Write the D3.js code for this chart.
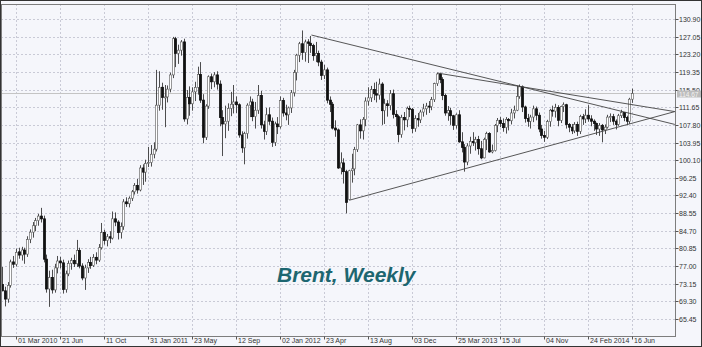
<!DOCTYPE html>
<html>
<head>
<meta charset="utf-8">
<script src="https://cdn.jsdelivr.net/npm/d3@7"></script>
<style>
  html, body { margin: 0; padding: 0; background: #f5f6fb; }
  svg { display: block; font-family: "Liberation Sans", Arial, sans-serif; }
</style>
</head>
<body>
<svg id="chart" width="702" height="347"></svg>
<script>
/* ----------  DATA  ---------- */
// weekly candles, first one is the week of 25 Jan 2010
const firstWeek = '2010-01-25'

const opens = [
  73.0, 71.6, 69.8, 72.8, 77.9, 77.4, 80.1, 79.4, 80.5, 79.6,
  82.8, 84.4, 85.8, 86.9, 87.9, 87.3, 78.5, 72.0, 74.5, 71.8,
  76.6, 78.1, 77.7, 71.9, 75.3, 77.6, 78.2, 77.5, 80.4, 77.0,
  74.4, 76.6, 77.8, 77.1, 78.9, 78.3, 81.0, 84.3, 82.6, 83.4,
  83.1, 87.3, 86.6, 84.3, 85.6, 91.0, 90.6, 91.8, 93.2, 94.6,
  93.6, 98.4, 97.5, 99.4, 99.6, 101.4, 102.5, 112.1, 116.0, 113.8,
  113.9, 115.6, 118.7, 126.6, 123.4, 124.1, 125.9, 109.1, 113.8, 112.4,
  115.0, 116.0, 118.8, 113.2, 105.1, 111.9, 118.3, 117.2, 118.7, 116.7,
  109.4, 108.0, 108.6, 111.4, 112.3, 112.8, 112.2, 105.6, 102.8, 105.9,
  112.1, 112.8, 109.6, 111.0, 114.2, 107.8, 106.4, 110.0, 108.6, 104.0,
  108.0, 107.4, 113.1, 110.4, 110.0, 111.5, 114.8, 119.2, 123.0, 125.5,
  123.6, 125.9, 125.6, 125.1, 122.9, 123.4, 121.5, 118.6, 119.8, 113.2,
  112.3, 107.1, 106.7, 98.4, 99.5, 97.6, 91.5, 97.8, 98.2, 102.4,
  107.8, 106.5, 109.0, 113.0, 113.7, 115.5, 114.6, 114.3, 116.7, 110.9,
  112.4, 112.0, 114.6, 110.1, 109.6, 105.7, 109.4, 108.9, 111.4, 111.2,
  107.0, 109.2, 108.9, 110.6, 111.3, 111.9, 111.8, 113.3, 116.8, 118.9,
  117.7, 114.2, 110.4, 110.9, 109.8, 107.7, 110.0, 104.1, 102.9, 99.7,
  103.2, 104.2, 103.9, 104.6, 102.6, 100.6, 104.6, 105.9, 101.9, 102.2,
  107.7, 108.8, 108.1, 107.2, 109.0, 108.7, 110.4, 111.0, 114.0, 116.1,
  111.7, 109.2, 108.6, 109.5, 111.3, 109.9, 106.9, 105.5, 105.1, 108.5,
  111.0, 110.8, 111.6, 108.8, 111.8, 112.2, 107.9, 107.3, 106.5, 107.9,
  106.4, 109.6, 109.1, 109.9, 109.1, 108.6, 108.1, 106.9, 107.7, 106.7,
  107.3, 109.5, 109.6, 108.6, 107.9, 109.8, 110.5, 109.4, 108.6, 113.4
]

const highs = [
  76.8, 72.5, 73.5, 78.4, 79.2, 80.8, 81.0, 81.2, 81.0, 83.5,
  85.0, 86.6, 87.5, 88.4, 89.7, 88.0, 79.5, 76.0, 76.2, 77.5,
  79.2, 79.0, 78.4, 76.0, 78.2, 78.8, 79.5, 82.7, 81.0, 77.6,
  77.3, 78.5, 79.0, 79.6, 80.0, 81.8, 86.4, 84.9, 84.0, 84.6,
  88.9, 88.7, 87.0, 86.5, 91.6, 92.0, 92.2, 93.6, 95.1, 96.0,
  99.0, 99.2, 100.2, 103.0, 103.4, 104.0, 119.8, 119.5, 117.0, 116.5,
  116.4, 119.2, 127.0, 127.0, 125.3, 126.3, 126.6, 115.4, 116.2, 116.0,
  117.2, 120.5, 121.5, 114.5, 112.3, 118.6, 119.0, 119.3, 119.5, 117.5,
  111.0, 112.0, 112.5, 115.0, 116.5, 114.0, 112.5, 106.4, 106.3, 112.5,
  114.0, 113.5, 112.8, 116.5, 115.2, 108.7, 111.5, 111.6, 109.4, 108.5,
  109.5, 114.0, 113.7, 112.2, 111.8, 115.4, 119.8, 123.3, 125.9, 128.4,
  126.4, 126.5, 127.2, 125.5, 125.9, 124.0, 122.0, 120.9, 120.3, 114.0,
  112.8, 108.8, 107.0, 101.8, 100.5, 98.0, 98.0, 101.5, 103.0, 108.0,
  109.0, 109.5, 113.8, 116.0, 116.3, 117.0, 117.2, 117.9, 117.1, 113.5,
  113.2, 115.4, 115.5, 111.0, 110.0, 110.0, 110.6, 111.8, 112.0, 111.5,
  109.9, 110.4, 111.1, 112.4, 112.6, 113.0, 113.9, 117.0, 119.2, 119.2,
  118.2, 114.6, 111.9, 111.5, 110.0, 110.3, 111.0, 106.2, 103.6, 103.8,
  105.2, 106.2, 105.2, 105.4, 104.3, 105.0, 106.3, 106.2, 103.5, 108.0,
  109.3, 109.5, 109.2, 109.5, 109.3, 111.3, 112.0, 116.3, 116.6, 116.4,
  112.0, 110.2, 110.0, 112.0, 111.8, 110.5, 107.8, 106.5, 108.9, 111.3,
  112.0, 112.4, 112.1, 112.0, 112.7, 112.4, 108.2, 108.0, 108.4, 108.5,
  110.0, 110.2, 111.2, 112.1, 109.9, 109.0, 108.3, 108.2, 108.0, 107.9,
  110.0, 110.3, 110.2, 109.0, 110.2, 111.1, 110.6, 109.8, 113.7, 115.7
]

const lows = [
  71.5, 68.2, 69.0, 72.3, 76.6, 76.9, 78.6, 78.2, 77.5, 79.0,
  82.0, 83.2, 84.6, 85.8, 86.5, 77.8, 71.2, 68.1, 71.0, 71.2,
  75.4, 76.5, 71.0, 71.2, 74.8, 76.2, 76.8, 76.8, 76.5, 73.9,
  71.8, 75.5, 76.4, 76.8, 77.4, 77.9, 80.6, 81.7, 81.3, 82.0,
  82.8, 85.7, 82.8, 83.0, 84.9, 89.9, 89.8, 91.2, 92.6, 92.8,
  93.3, 94.7, 95.4, 98.6, 98.7, 100.5, 102.0, 110.9, 111.1, 107.3,
  112.7, 114.9, 118.0, 120.4, 121.1, 122.9, 108.5, 107.9, 109.8, 110.9,
  113.0, 114.4, 112.6, 103.8, 104.5, 111.3, 115.6, 116.0, 115.5, 107.5,
  101.0, 104.9, 106.5, 109.7, 110.3, 110.4, 105.0, 101.7, 99.2, 104.8,
  109.5, 108.6, 107.0, 110.2, 107.0, 104.6, 105.6, 107.8, 103.0, 103.2,
  105.8, 107.0, 109.6, 108.8, 107.8, 110.4, 114.0, 117.5, 121.5, 122.0,
  121.6, 121.3, 123.5, 121.8, 121.5, 120.6, 117.6, 117.8, 112.5, 110.6,
  106.8, 105.2, 98.2, 97.0, 95.0, 88.5, 91.3, 95.2, 96.8, 101.9,
  104.8, 104.6, 107.5, 112.0, 112.8, 113.2, 112.7, 113.3, 107.8, 108.0,
  109.6, 111.0, 109.2, 107.5, 104.0, 105.0, 106.6, 107.3, 109.5, 106.0,
  106.3, 107.4, 108.2, 109.6, 110.0, 110.4, 111.0, 112.8, 116.3, 116.9,
  113.2, 109.8, 108.7, 107.8, 106.7, 107.0, 103.9, 101.8, 97.6, 99.0,
  101.5, 103.2, 102.2, 101.3, 100.3, 100.5, 102.3, 101.7, 101.6, 102.0,
  106.2, 107.3, 106.3, 105.9, 106.6, 107.9, 109.2, 110.8, 113.5, 110.6,
  108.3, 107.4, 107.0, 108.4, 108.8, 106.2, 104.8, 104.1, 104.7, 107.4,
  109.6, 109.4, 107.5, 108.2, 110.6, 107.0, 106.2, 105.8, 106.0, 105.4,
  105.8, 107.8, 108.2, 108.5, 107.5, 106.5, 105.6, 105.4, 104.0, 105.8,
  107.0, 108.4, 107.8, 106.8, 107.6, 109.3, 108.6, 107.7, 108.0, 112.6
]

const closes = [
  71.6, 69.8, 72.8, 77.9, 77.4, 80.0, 79.4, 80.5, 79.6, 82.8,
  84.4, 85.8, 86.9, 87.9, 87.3, 78.5, 72.0, 74.5, 71.8, 76.6,
  78.1, 77.7, 71.9, 75.3, 77.6, 78.2, 77.5, 80.4, 77.0, 74.4,
  76.6, 77.8, 77.1, 78.9, 78.3, 81.0, 84.3, 82.6, 83.4, 83.1,
  87.3, 86.6, 84.3, 85.6, 91.0, 90.6, 91.8, 93.2, 94.6, 93.6,
  98.4, 97.5, 99.4, 99.6, 101.4, 102.5, 112.1, 116.0, 113.8, 113.9,
  115.6, 118.7, 126.6, 123.4, 124.1, 125.9, 109.1, 113.8, 112.4, 115.0,
  116.0, 118.8, 113.2, 105.1, 111.9, 118.3, 117.2, 118.7, 116.7, 109.4,
  108.0, 108.6, 111.4, 112.3, 112.8, 112.2, 105.6, 102.8, 105.9, 112.1,
  112.8, 109.6, 111.0, 114.2, 107.8, 106.4, 110.0, 108.6, 104.0, 108.0,
  107.4, 113.1, 110.4, 110.0, 111.5, 114.8, 119.2, 123.0, 125.5, 123.6,
  125.9, 125.6, 125.1, 122.9, 123.4, 121.5, 118.6, 119.8, 113.2, 112.3,
  107.1, 106.7, 98.4, 99.5, 97.6, 90.9, 97.8, 98.2, 102.4, 107.8,
  106.5, 109.0, 113.0, 113.7, 115.5, 114.6, 114.3, 116.7, 110.9, 112.4,
  112.0, 114.6, 110.1, 109.6, 105.7, 109.4, 108.9, 111.4, 111.2, 107.0,
  109.2, 108.9, 110.6, 111.3, 111.9, 111.8, 113.3, 116.8, 118.9, 117.7,
  114.2, 110.4, 110.9, 109.8, 107.7, 110.0, 104.1, 102.9, 99.7, 103.2,
  104.2, 103.9, 104.6, 102.6, 100.6, 104.6, 105.9, 101.9, 102.2, 107.7,
  108.8, 108.1, 107.2, 109.0, 108.7, 110.4, 111.0, 114.0, 116.1, 111.7,
  109.2, 108.6, 109.5, 111.3, 109.9, 106.9, 105.5, 105.1, 108.5, 111.0,
  110.8, 111.6, 108.8, 111.8, 112.2, 107.9, 107.3, 106.5, 107.9, 106.4,
  109.6, 109.1, 109.9, 109.1, 108.6, 108.1, 106.9, 107.7, 106.7, 107.3,
  109.5, 109.6, 108.6, 107.9, 109.8, 110.5, 109.4, 108.6, 113.4, 114.67
]

const lastPrice = 114.67

const yTicks = [130.90, 127.05, 123.20, 119.35, 115.50, 111.65, 107.80, 103.95, 100.10,
  96.25, 92.40, 88.55, 84.70, 80.85, 77.00, 73.15, 69.30, 65.45]

const xTickDates = ['2010-03-01', '2010-06-21', '2010-10-11', '2011-01-31', '2011-05-23',
  '2011-09-12', '2012-01-02', '2012-04-23', '2012-08-13', '2012-12-03', '2013-03-25',
  '2013-07-15', '2013-11-04', '2014-02-24', '2014-06-16']
const xTickLabels = ['01 Mar 2010', '21 Jun', '11 Oct', '31 Jan 2011', '23 May',
  '12 Sep', '02 Jan 2012', '23 Apr', '13 Aug', '03 Dec', '25 Mar 2013',
  '15 Jul', '04 Nov', '24 Feb 2014', '16 Jun']

// hand drawn trend lines: [date, price] pairs
const trendLines = [
  [['2012-03-22', 127.4], ['2014-10-03', 107.9]],
  [['2013-02-06', 119.1], ['2014-10-03', 110.7]],
  [['2012-06-28', 91.4], ['2014-10-03', 110.7]]
]

/* ----------  LAYOUT  ---------- */
const W = 702
const H = 347
const plot = {left: 1, right: 675, top: 4, bottom: 336}

const parse = d3.utcParse('%Y-%m-%d')
const start = parse(firstWeek)
const weeks = closes.map((_, i) => d3.utcDay.offset(start, 7 * i))
const candles = weeks.map((w, i) => ({date: w, o: opens[i], h: highs[i], l: lows[i], c: closes[i]}))

// x: one week = 2.75 px, first candle a bit in from the left border
const x = d3.scaleTime()
  .domain([weeks[0], weeks[weeks.length - 1]])
  .range([2.25, 632])

const y = d3.scaleLinear()
  .domain([65.45, 130.90])
  .range([319, 19])

const svg = d3.select('#chart')

svg.append('rect')
  .attr('width', W)
  .attr('height', H)
  .attr('fill', '#f5f6fb')

svg.append('defs').append('clipPath')
  .attr('id', 'plotClip')
  .append('rect')
  .attr('x', plot.left)
  .attr('y', plot.top)
  .attr('width', plot.right - plot.left)
  .attr('height', plot.bottom - plot.top)

/* ----------  GRID  ---------- */
const grid = svg.append('g').attr('stroke', '#c9cad6').attr('stroke-dasharray', '2,2')

yTicks.forEach(t => {
  const yy = Math.round(y(t)) + 0.5
  grid.append('line')
    .attr('x1', plot.left).attr('x2', plot.right)
    .attr('y1', yy).attr('y2', yy)
})

xTickDates.forEach(d => {
  const xx = Math.round(x(parse(d))) + 0.5
  grid.append('line')
    .attr('x1', xx).attr('x2', xx)
    .attr('y1', plot.top).attr('y2', plot.bottom)
})

const canvas = svg.append('g').attr('clip-path', 'url(#plotClip)')

// last price line
canvas.append('line')
  .attr('x1', plot.left).attr('x2', plot.right)
  .attr('y1', Math.round(y(lastPrice)) + 0.5)
  .attr('y2', Math.round(y(lastPrice)) + 0.5)
  .attr('stroke', '#c4c4c4')

/* ----------  CANDLES  ---------- */
candles.forEach(d => {
  const cx = Math.round(x(d.date))
  const up = d.c >= d.o
  canvas.append('line')
    .attr('x1', cx + 0.5).attr('x2', cx + 0.5)
    .attr('y1', y(d.h)).attr('y2', y(d.l))
    .attr('stroke', '#3a3a3a')
    .attr('stroke-width', 0.9)

  const top = y(Math.max(d.o, d.c))
  const bodyH = Math.max(1, Math.abs(y(d.o) - y(d.c)))
  canvas.append('rect')
    .attr('x', cx - 0.5)
    .attr('y', top)
    .attr('width', 2)
    .attr('height', bodyH)
    .attr('fill', up ? '#ffffff' : '#111111')
    .attr('stroke', up ? '#555555' : '#111111')
    .attr('stroke-width', up ? 0.6 : 0.8)
})

/* ----------  TREND LINES  ---------- */
const trend = d3.line()
  .x(p => x(parse(p[0])))
  .y(p => y(p[1]))

trendLines.forEach(tl => {
  canvas.append('path')
    .attr('d', trend(tl))
    .attr('fill', 'none')
    .attr('stroke', '#444')
    .attr('stroke-width', 0.9)
})

/* ----------  FRAME & AXES  ---------- */
svg.append('rect')
  .attr('x', plot.left + 0.5)
  .attr('y', plot.top + 0.5)
  .attr('width', plot.right - plot.left)
  .attr('height', plot.bottom - plot.top)
  .attr('fill', 'none')
  .attr('stroke', '#7d7d7d')

const yAxis = svg.append('g')
yTicks.forEach(t => {
  const yy = Math.round(y(t)) + 0.5
  yAxis.append('line')
    .attr('x1', plot.right + 0.5).attr('x2', plot.right + 3.5)
    .attr('y1', yy).attr('y2', yy)
    .attr('stroke', '#555')
  yAxis.append('text')
    .attr('x', plot.right + 4)
    .attr('y', yy + 2.5)
    .style('font-size', '7px')
    .attr('fill', '#333')
    .text(d3.format('.2f')(t))
})

// last price tag, sits just under the 115.50 label as in the source
const tagY = Math.round(y(lastPrice))
svg.append('rect')
  .attr('x', plot.right + 2)
  .attr('y', tagY - 2.5)
  .attr('width', 24)
  .attr('height', 7)
  .attr('fill', '#bdbdbd')
svg.append('text')
  .attr('x', plot.right + 4)
  .attr('y', tagY + 3.5)
  .style('font-size', '6.5px')
  .attr('fill', '#f2f2f2')
  .text(d3.format('.2f')(lastPrice))

const xAxis = svg.append('g')
xTickDates.forEach((d, i) => {
  const xx = Math.round(x(parse(d))) + 0.5
  xAxis.append('line')
    .attr('x1', xx).attr('x2', xx)
    .attr('y1', plot.bottom + 0.5).attr('y2', plot.bottom + 3.5)
    .attr('stroke', '#555')
  xAxis.append('text')
    .attr('x', xx + 1.5)
    .attr('y', plot.bottom + 7)
    .style('font-size', '7px')
    .attr('fill', '#333')
    .text(xTickLabels[i])
})

/* ----------  TITLE  ---------- */
svg.append('text')
  .attr('x', 277)
  .attr('y', 282)
  .style('font-size', '21px')
  .style('font-weight', 'bold')
  .style('font-style', 'italic')
  .attr('fill', '#1d6670')
  .text('Brent, Weekly')

// outer frame
svg.append('rect')
  .attr('x', 0.5).attr('y', 0.5)
  .attr('width', W - 1).attr('height', H - 1)
  .attr('fill', 'none')
  .attr('stroke', '#333')
</script>
</body>
</html>
